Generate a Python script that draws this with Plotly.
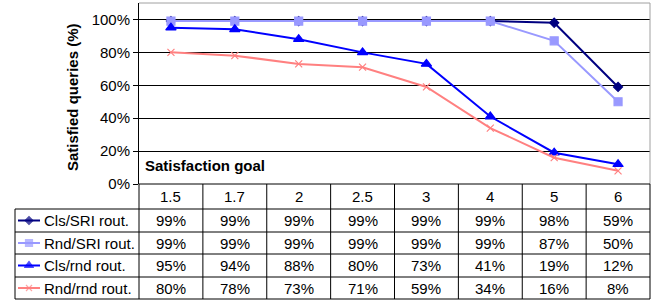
import plotly.graph_objects as go

categories = ["1.5", "1.7", "2", "2.5", "3", "4", "5", "6"]
series_names = ["Cls/SRI rout.", "Rnd/SRI rout.", "Cls/rnd rout.", "Rnd/rnd rout."]
cls_sri = [99, 99, 99, 99, 99, 99, 98, 59]
rnd_sri = [99, 99, 99, 99, 99, 99, 87, 50]
cls_rnd = [95, 94, 88, 80, 73, 41, 19, 12]
rnd_rnd = [80, 78, 73, 71, 59, 34, 16, 8]
y_ticks = [0, 20, 40, 60, 80, 100]
y_tick_labels = ["0%", "20%", "40%", "60%", "80%", "100%"]

series_values = [cls_sri, rnd_sri, cls_rnd, rnd_rnd]
colors = ["#000080", "#9999FF", "#0000FF", "#FF8080"]
symbols = ["diamond", "square", "triangle-up", "x-thin"]
msizes = [7, 8, 9, 7]

W, H = 655, 301
FONT = "Liberation Sans, Arial, sans-serif"
FS = 15

def px(x):
    return x / W

def py(y):
    return 1 - y / H

PL, PR, PT, PB = 139, 650, 3, 184
fig = go.Figure()

for name, vals, c, s, ms in zip(series_names, series_values, colors, symbols, msizes):
    fig.add_trace(go.Scatter(
        x=categories, y=[v / 100 for v in vals], mode="lines+markers", name=name,
        line=dict(color=c, width=2),
        marker=dict(symbol=s, size=ms, color=c, line=dict(color=c, width=1.2)),
        showlegend=False, xaxis="x", yaxis="y",
    ))

# legend keys in table (overlay pixel axis)
row_tops = [209, 232, 254, 277, 299]
for i, (c, s, ms) in enumerate(zip(colors, symbols, msizes)):
    yc = (row_tops[i] + row_tops[i + 1]) / 2
    fig.add_trace(go.Scatter(
        x=[18, 29, 40], y=[yc, yc, yc], mode="lines+markers",
        line=dict(color=c, width=2),
        marker=dict(symbol=s, size=[0, ms - 1, 0], color=c, line=dict(color=c, width=1.2)),
        showlegend=False, xaxis="x2", yaxis="y2", hoverinfo="skip",
    ))

fig.update_layout(
    width=W, height=H, margin=dict(l=0, r=0, t=0, b=0, autoexpand=False),
    paper_bgcolor="white", plot_bgcolor="rgba(0,0,0,0)",
    font=dict(family=FONT, size=FS, color="black"),
    xaxis=dict(domain=[px(PL), px(PR)], range=[-0.5, 7.5], type="category", automargin=False,
               showticklabels=False, showgrid=False, zeroline=False, showline=False, ticks=""),
    yaxis=dict(domain=[py(PB), py(PT)], range=[0, 1.1], tickvals=[t / 100 for t in y_ticks],
               ticktext=y_tick_labels, showgrid=True, gridcolor="black", gridwidth=1,
               zeroline=False, showline=True, linecolor="black", linewidth=1, automargin=False,
               ticks="outside", ticklen=5, tickcolor="black", tickfont=dict(size=FS)),
    xaxis2=dict(domain=[0, 1], range=[0, W], visible=False, fixedrange=True, anchor="y2", automargin=False),
    yaxis2=dict(domain=[0, 1], range=[H, 0], visible=False, fixedrange=True, anchor="x2", automargin=False),
)

shapes = []
line = dict(color="black", width=1)
gray = dict(color="#A0A0A0", width=1)
# plot border top/right
shapes.append(dict(type="line", xref="paper", yref="paper", x0=px(PL), x1=px(PR), y0=py(PT), y1=py(PT), line=gray))
shapes.append(dict(type="line", xref="paper", yref="paper", x0=px(PR), x1=px(PR), y0=py(PT), y1=py(PB), line=gray))
# table horizontal lines
shapes.append(dict(type="line", xref="paper", yref="paper", x0=px(PL), x1=px(PR), y0=py(PB), y1=py(PB), line=line))
for yt in row_tops:
    shapes.append(dict(type="line", xref="paper", yref="paper", x0=px(15), x1=px(PR), y0=py(yt), y1=py(yt), line=line))
# vertical lines
colw = (PR - PL) / len(categories)
for k in range(len(categories) + 1):
    xb = PL + k * colw
    shapes.append(dict(type="line", xref="paper", yref="paper", x0=px(xb), x1=px(xb), y0=py(PB), y1=py(299), line=line))
shapes.append(dict(type="line", xref="paper", yref="paper", x0=px(15), x1=px(15), y0=py(209), y1=py(299), line=line))
fig.update_layout(shapes=shapes)

ann = []
for k, cat in enumerate(categories):
    xc = PL + (k + 0.5) * colw
    ann.append(dict(x=px(xc), y=py(196.5), xref="paper", yref="paper", text=cat, showarrow=False,
                    xanchor="center", yanchor="middle", font=dict(size=FS)))
    for i, vals in enumerate(series_values):
        yc = (row_tops[i] + row_tops[i + 1]) / 2
        ann.append(dict(x=px(xc), y=py(yc), xref="paper", yref="paper", text=f"{vals[k]}%", showarrow=False,
                        xanchor="center", yanchor="middle", font=dict(size=FS)))
for i, name in enumerate(series_names):
    yc = (row_tops[i] + row_tops[i + 1]) / 2
    ann.append(dict(x=px(42), y=py(yc), xref="paper", yref="paper", text=name, showarrow=False,
                    xanchor="left", yanchor="middle", font=dict(size=FS)))
ann.append(dict(x=px(143), y=py(166), xref="paper", yref="paper", text="<b>Satisfaction goal</b>",
                showarrow=False, xanchor="left", yanchor="middle", font=dict(size=FS)))
ann.append(dict(x=px(72), y=py(97), xref="paper", yref="paper", text="<b>Satisfied queries (%)</b>",
                showarrow=False, xanchor="center", yanchor="middle", textangle=-90, font=dict(size=FS)))
fig.update_layout(annotations=ann)

fig.write_html("out.html", config={"displayModeBar": False},
               post_script="document.body.style.margin='0';document.body.style.overflow='hidden';")
